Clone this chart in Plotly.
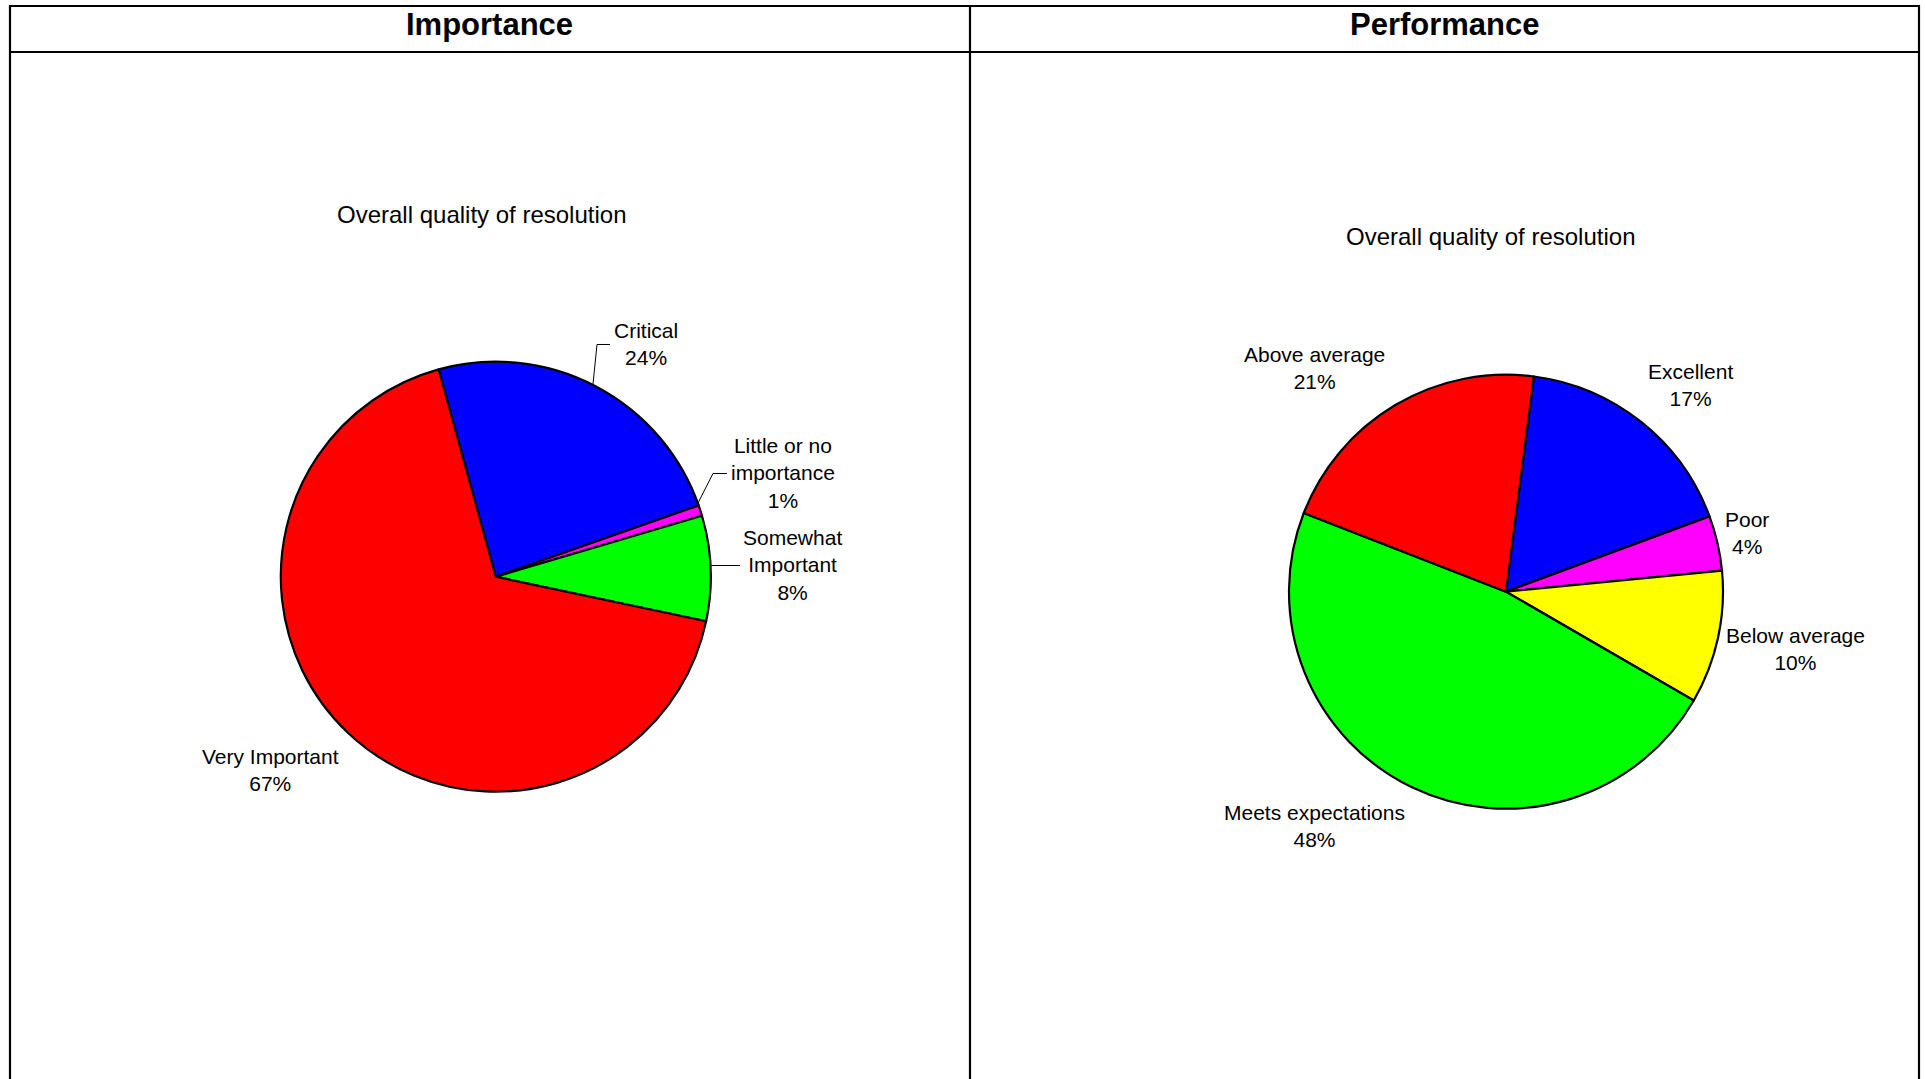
import plotly.graph_objects as go

# ---------------- data ----------------
imp_labels = ["Critical", "Little or no<br>importance", "Somewhat<br>Important", "Very Important"]
imp_values = [23.9, 0.8, 7.9, 67.4]
imp_colors = ["#0000FF", "#FF00FF", "#00FF00", "#FF0000"]

perf_labels = ["Excellent", "Poor", "Below average", "Meets expectations", "Above average"]
perf_values = [17.3, 4.1, 9.9, 47.55, 21.15]
perf_colors = ["#0000FF", "#FF00FF", "#FFFF00", "#00FF00", "#FF0000"]

panel_titles = ["Importance", "Performance"]
chart_title = "Overall quality of resolution"

# ---------------- layout helpers (pixel -> paper) ----------------
W, H = 1925, 1079
def px(x):
    return x / W
def py(y):
    return 1 - y / H

def pie_domain(cx, cy, r):
    return dict(x=[px(cx - r), px(cx + r)], y=[py(cy + r), py(cy - r)])

FONT = "Liberation Sans, Arial, sans-serif"

fig = go.Figure()

fig.add_trace(go.Pie(
    labels=imp_labels, values=imp_values, sort=False, direction="clockwise",
    rotation=-15.4, textinfo="none", hoverinfo="label+percent",
    marker=dict(colors=imp_colors, line=dict(color="black", width=2.2)),
    domain=pie_domain(495.8, 576.7, 215), showlegend=False,
))
fig.add_trace(go.Pie(
    labels=perf_labels, values=perf_values, sort=False, direction="clockwise",
    rotation=7.4, textinfo="none", hoverinfo="label+percent",
    marker=dict(colors=perf_colors, line=dict(color="black", width=2.2)),
    domain=pie_domain(1506, 591.7, 217), showlegend=False,
))

annotations = []
# panel headers
for title, cx in zip(panel_titles, [490, 1445]):
    annotations.append(dict(x=px(cx), y=py(24.5), xref="paper", yref="paper",
                            text="<b>%s</b>" % title, showarrow=False,
                            font=dict(family=FONT, size=31, color="black"),
                            xanchor="center", yanchor="middle"))
# chart subtitles
for cx, cy in [(481, 214), (1490, 237)]:
    annotations.append(dict(x=px(cx), y=py(cy), xref="paper", yref="paper",
                            text=chart_title, showarrow=False,
                            font=dict(family=FONT, size=24, color="black"),
                            xanchor="center", yanchor="middle"))

# slice labels (label + rounded percent)
imp_pos = [(646, 344), (783, 473), (792, 565), (270, 770)]
perf_pos = [(1690, 385), (1747, 533), (1795, 649), (1314, 826), (1314, 368)]

def add_labels(labels, values, positions):
    tot = sum(values)
    for lab, v, (x, y) in zip(labels, values, positions):
        annotations.append(dict(x=px(x), y=py(y), xref="paper", yref="paper",
                                text="%s<br>%d%%" % (lab, round(100 * v / tot)),
                                showarrow=False, align="center",
                                font=dict(family=FONT, size=21, color="black"),
                                xanchor="center", yanchor="middle"))

add_labels(imp_labels, imp_values, imp_pos)
add_labels(perf_labels, perf_values, perf_pos)

# table frame lines
shapes = []
def line(x0, y0, x1, y1, w=2.2, color="black"):
    shapes.append(dict(type="line", xref="paper", yref="paper",
                       x0=px(x0), y0=py(y0), x1=px(x1), y1=py(y1),
                       line=dict(color=color, width=w)))

line(9, 6, 1920, 6)
line(9, 52, 1920, 52)
line(10, 5, 10, H)
line(970, 5, 970, H)
line(1919, 5, 1919, H)

# leader lines
def leader(points):
    path = "M " + " L ".join("%f,%f" % (px(x), py(y)) for x, y in points)
    shapes.append(dict(type="path", xref="paper", yref="paper", path=path,
                       line=dict(color="black", width=1)))

leader([(593, 384), (597, 344.5), (610, 344.5)])
leader([(697, 505), (713, 473.5), (727, 473.5)])
leader([(709, 565.5), (740, 565.5)])

fig.update_layout(
    width=W, height=H, margin=dict(l=0, r=0, t=0, b=0),
    paper_bgcolor="white", plot_bgcolor="white",
    annotations=annotations, shapes=shapes,
    font=dict(family=FONT, color="black"),
)

fig.write_html("out.html", config={"displayModeBar": False},
               post_script="document.body.style.margin='0';document.body.style.overflow='hidden';")
